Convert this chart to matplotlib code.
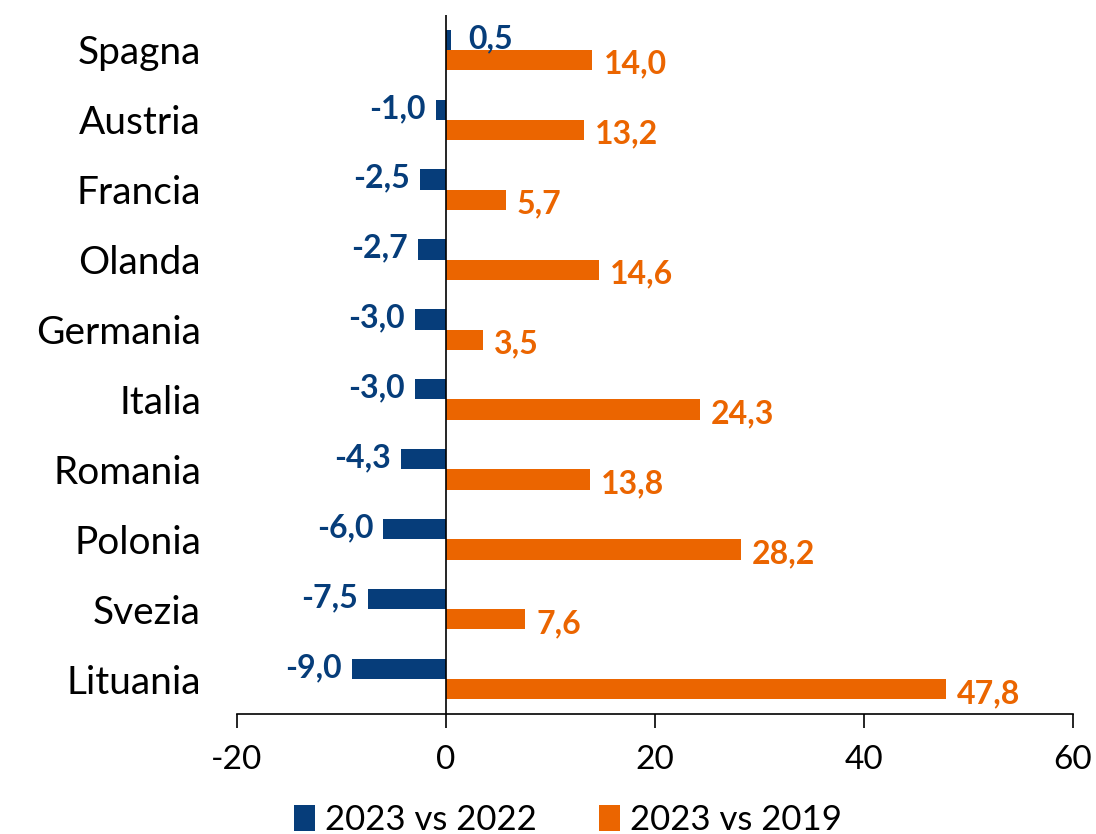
import numpy as np
import matplotlib.pyplot as plt
from matplotlib.patches import Patch

paesi = ["Spagna", "Austria", "Francia", "Olanda", "Germania",
         "Italia", "Romania", "Polonia", "Svezia", "Lituania"]
vs_2022 = [0.5, -1.0, -2.5, -2.7, -3.0, -3.0, -4.3, -6.0, -7.5, -9.0]
vs_2019 = [14.0, 13.2, 5.7, 14.6, 3.5, 24.3, 13.8, 28.2, 7.6, 47.8]

blu = "#063d7a"
arancio = "#eb6500"

plt.rcParams['font.family'] = ['Lato', 'DejaVu Sans']

fig = plt.figure(figsize=(10.96, 8.34), dpi=100)
ax = fig.add_axes([237 / 1096, 1 - 714 / 834, (1073 - 237) / 1096, (714 - 15) / 834])

y = np.arange(len(paesi))
h = 0.29
ax.barh(y - h / 2, vs_2022, height=h, color=blu, zorder=2)
ax.barh(y + h / 2, vs_2019, height=h, color=arancio, zorder=2)

def fmt(v):
    return f"{v:.1f}".replace(".", ",")

for i in range(len(paesi)):
    v = vs_2022[i]
    if v < 0:
        ax.annotate(fmt(v), (v, y[i] - h / 2), xytext=(-7, 1), textcoords="offset points",
                    ha="right", va="center", color=blu, fontsize=23, fontweight="bold")
    else:
        ax.annotate(fmt(v), (v, y[i] - h / 2), xytext=(12, 1), textcoords="offset points",
                    ha="left", va="center", color=blu, fontsize=23, fontweight="bold")
    w = vs_2019[i]
    ax.annotate(fmt(w), (w, y[i] + h / 2), xytext=(8, -3), textcoords="offset points",
                ha="left", va="center", color=arancio, fontsize=23, fontweight="bold")

ax.set_ylim(len(paesi) - 0.5, -0.5)
ax.set_xlim(-20, 60)
ax.set_xticks([-20, 0, 20, 40, 60])
ax.set_xticklabels(["-20", "0", "20", "40", "60"], fontsize=24)
ax.set_yticks(y)
ax.set_yticklabels(paesi, fontsize=28)
ax.tick_params(axis="y", length=0, pad=26)
ax.tick_params(axis="x", length=10, width=1.2, direction="out", pad=12)

for s in ["top", "right", "left"]:
    ax.spines[s].set_visible(False)
ax.spines["bottom"].set_linewidth(1.2)
ax.axvline(0, color="black", linewidth=1.2, zorder=3)

maniglie = [Patch(facecolor=blu), Patch(facecolor=arancio)]
fig.legend(maniglie, ["2023 vs 2022", "2023 vs 2019"], loc="lower center",
           bbox_to_anchor=(0.5 + 20 / 1096, -0.04), ncol=2, frameon=False, fontsize=25,
           handlelength=0.6, handleheight=0.8, handletextpad=0.3, columnspacing=1.8)

fig.savefig("out.png", dpi=100)
